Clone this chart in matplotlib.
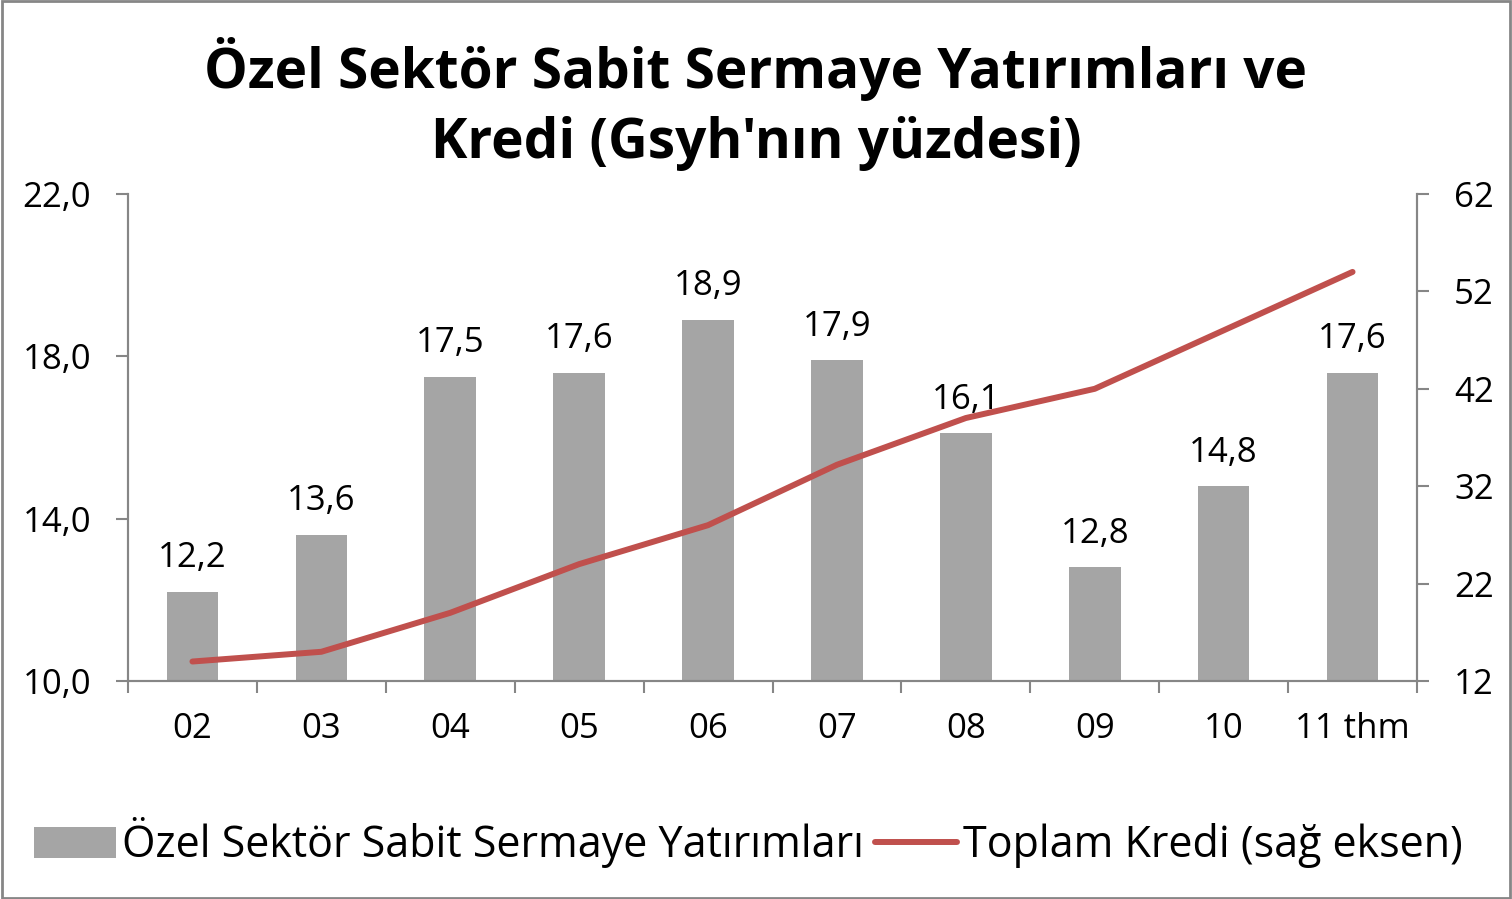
import matplotlib
matplotlib.use("Agg")
import matplotlib.pyplot as plt
from matplotlib.patches import Rectangle

plt.rcParams['font.family'] = ['Open Sans', 'DejaVu Sans']

# data
years = ["02", "03", "04", "05", "06", "07", "08", "09", "10", "11 thm"]
yatirim = [12.2, 13.6, 17.5, 17.6, 18.9, 17.9, 16.1, 12.8, 14.8, 17.6]
kredi = [14.0, 15.0, 19.0, 24.0, 28.0, 34.2, 39.0, 42.0, 48.0, 54.0]
left_ticks = [10, 14, 18, 22]
right_ticks = [12, 22, 32, 42, 52, 62]

barColor = "#A5A5A5"
lineColor = "#C0504D"
axisColor = "#868686"

fig = plt.figure(figsize=(15.12, 8.99), dpi=100)
ax = fig.add_axes([128/1512, 1-681/899, (1417-128)/1512, (681-194)/899])
x = list(range(len(years)))

ax.bar(x, yatirim, width=0.40, color=barColor, zorder=2, label="Özel Sektör Sabit Sermaye Yatırımları")
for xi, v in zip(x, yatirim):
    ax.annotate(f"{v:.1f}".replace(".", ","), (xi, v), xytext=(0, 12), textcoords="offset points",
                ha="center", va="bottom", fontsize=25)

ax.set_xlim(-0.5, len(years)-0.5)
ax.set_ylim(10, 22)
ax.set_yticks(left_ticks)
ax.set_yticklabels([f"{t:.1f}".replace(".", ",") for t in left_ticks], fontsize=25)
ax.set_xticks(x)
ax.set_xticklabels(years, fontsize=25)
ax.tick_params(axis="x", length=0, pad=22)
ax.set_xticks([i + 0.5 for i in range(-1, len(years))], minor=True)
ax.tick_params(axis="x", which="minor", length=8.6, width=1.5, color=axisColor, direction="out")
ax.tick_params(axis="y", length=8.6, width=1.5, color=axisColor, direction="out", pad=18)

ax2 = ax.twinx()
ax2.plot(x, kredi, color=lineColor, linewidth=4.3, solid_capstyle="round", zorder=3, label="Toplam Kredi (sağ eksen)")
ax2.set_ylim(12, 62)
ax2.set_yticks(right_ticks)
ax2.set_yticklabels([str(t) for t in right_ticks], fontsize=25)
ax2.tick_params(axis="y", length=8.6, width=1.5, color=axisColor, direction="out", pad=18)

for a in (ax, ax2):
    a.spines["top"].set_visible(False)
    for s in ("left", "right", "bottom"):
        a.spines[s].set_color(axisColor)
        a.spines[s].set_linewidth(1.5)
ax.set_zorder(ax2.get_zorder() - 1)
ax2.patch.set_visible(False)

fig.text(0.5, 1-104/899, "Özel Sektör Sabit Sermaye Yatırımları ve\nKredi (Gsyh'nın yüzdesi)",
         ha="center", va="center", fontsize=39.5, fontweight="bold", linespacing=1.36)

h1, l1 = ax.get_legend_handles_labels()
h2, l2 = ax2.get_legend_handles_labels()
fig.legend(h1 + h2, l1 + l2, loc="center", bbox_to_anchor=(0.495, 1-843/899), ncol=2,
           frameon=False, fontsize=31, handlelength=1.9, handletextpad=0.15, columnspacing=0.25)

fig.patches.append(Rectangle((0.001, 0.001), 0.998, 0.998, transform=fig.transFigure,
                             fill=False, edgecolor=axisColor, linewidth=2))

fig.savefig("out.png", dpi=100)
